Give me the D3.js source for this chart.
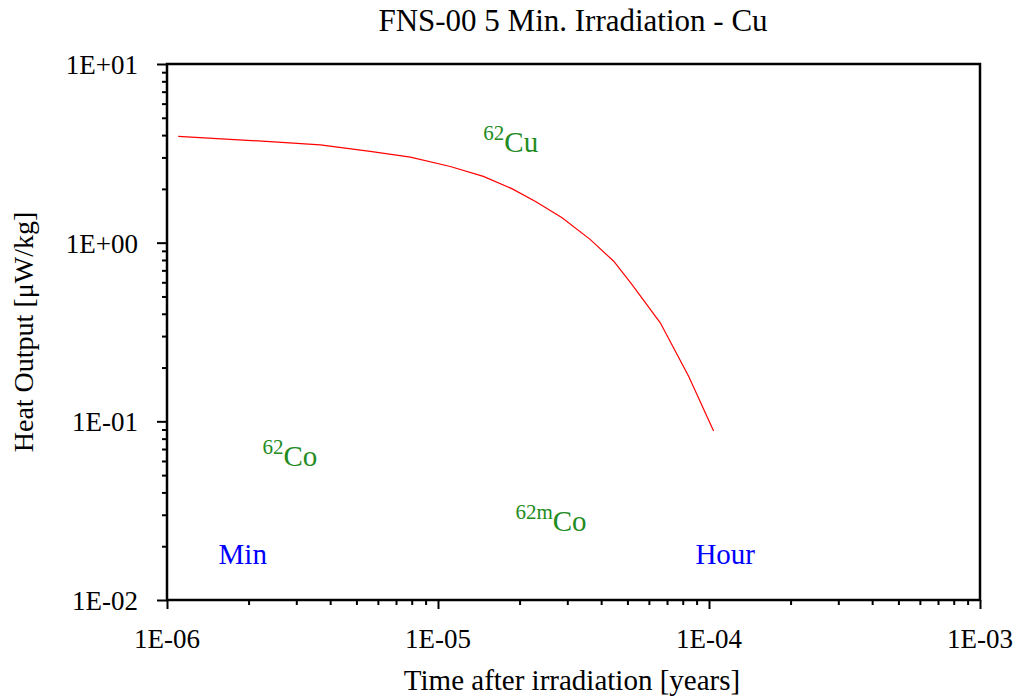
<!DOCTYPE html>
<html><head><meta charset="utf-8">
<script src="https://cdn.jsdelivr.net/npm/d3@7"></script>
<style>body{margin:0;background:#fff;} text{font-family:"Liberation Serif","Times New Roman",serif;}</style>
</head><body>
<script>
const times = [1.10e-6, 2.40e-6, 3.68e-6, 5.62e-6, 7.91e-6, 1.11e-5, 1.47e-5, 1.88e-5, 2.29e-5, 2.87e-5, 3.65e-5, 4.45e-5, 5.20e-5, 6.61e-5, 8.41e-5, 1.04e-4];
const heat  = [3.93, 3.68, 3.53, 3.24, 3.01, 2.67, 2.35, 2.00, 1.70, 1.38, 1.04, 0.787, 0.582, 0.356, 0.179, 0.0883];
const xTickLabels = ["1E-06","1E-05","1E-04","1E-03"];
const yTickLabels = ["1E-02","1E-01","1E+00","1E+01"];
const nuclideLabels = [
  {sup:"62", base:"Cu", t:1.47e-5, v:3.22},
  {sup:"62", base:"Co", t:2.25e-6, v:0.0561},
  {sup:"62m", base:"Co", t:1.93e-5, v:0.0243}
];
const timeMarks = [
  {text:"Min", t:1.55e-6, v:0.0159},
  {text:"Hour", t:8.91e-5, v:0.0159}
];

const W=1018,H=697;
const L=167,R=980,T=64,B=600;
const svg=d3.select("body").append("svg").attr("width",W).attr("height",H);
const x=d3.scaleLog().domain([1e-6,1e-3]).range([L,R]);
const y=d3.scaleLog().domain([1e-2,10]).range([B,T]);

function isMajor(d){const l=Math.log10(d);return Math.abs(l-Math.round(l))<1e-9;}

// x axis
const xa=svg.append("g").attr("transform",`translate(0,${B})`)
  .call(d3.axisBottom(x).tickValues(x.ticks()).tickSizeOuter(0).tickFormat(()=> ""));
xa.selectAll(".tick line").attr("y2",d=>isMajor(d)?9:5).attr("stroke-width",2);
xa.select(".domain").remove();
const xMaj=x.ticks().filter(isMajor);
svg.append("g").selectAll("text").data(xMaj).join("text")
  .attr("x",d=>x(d)).attr("y",648).attr("text-anchor","middle")
  .attr("font-size",27).text((d,i)=>xTickLabels[i]);

// y axis
const ya=svg.append("g").attr("transform",`translate(${L},0)`)
  .call(d3.axisLeft(y).tickValues(y.ticks()).tickSizeOuter(0).tickFormat(()=> ""));
ya.selectAll(".tick line").attr("x2",d=>isMajor(d)?-10:-5).attr("stroke-width",2);
ya.select(".domain").remove();
const yMaj=y.ticks().filter(isMajor);
svg.append("g").selectAll("text").data(yMaj).join("text")
  .attr("x",138).attr("y",d=>y(d)+10).attr("text-anchor","end")
  .attr("font-size",27).text((d,i)=>yTickLabels[i]);

// frame
svg.append("rect").attr("x",L).attr("y",T).attr("width",R-L).attr("height",B-T)
  .attr("fill","none").attr("stroke","#000").attr("stroke-width",2.5);

// curve
const pts=times.map((t,i)=>[t,heat[i]]);
svg.append("path").datum(pts).attr("fill","none").attr("stroke","#ff0000").attr("stroke-width",1.2)
  .attr("d",d3.line().x(d=>x(d[0])).y(d=>y(d[1])));

// nuclide labels
nuclideLabels.forEach(n=>{
  const t=svg.append("text").attr("x",x(n.t)).attr("y",y(n.v)).attr("fill","#228b22").attr("font-size",29);
  t.append("tspan").attr("font-size",21).attr("dy",-12).text(n.sup);
  t.append("tspan").attr("dy",12).text(n.base);
});
svg.append("g").selectAll("text").data(timeMarks).join("text")
  .attr("x",d=>x(d.t)).attr("y",d=>y(d.v)).attr("fill","#0000ff").attr("font-size",29).text(d=>d.text);

// titles
svg.append("text").attr("x",573).attr("y",31).attr("text-anchor","middle").attr("font-size",31)
  .text("FNS-00 5 Min. Irradiation - Cu");
svg.append("text").attr("x",572).attr("y",690).attr("text-anchor","middle").attr("font-size",29)
  .text("Time after irradiation [years]");
svg.append("text").attr("transform","translate(33,332) rotate(-90)").attr("text-anchor","middle").attr("font-size",28)
  .text("Heat Output [μW/kg]");
</script>
</body></html>
